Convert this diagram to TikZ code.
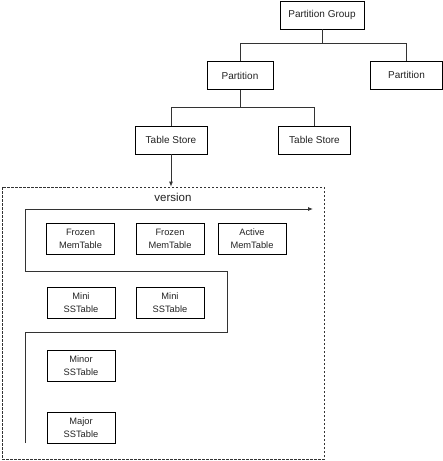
\documentclass[tikz,border=0pt]{standalone}
\usepackage{fontspec}
\setmainfont{Liberation Sans}
\usetikzlibrary{arrows.meta}
\definecolor{LineGray}{HTML}{333333}
\definecolor{TextGray}{HTML}{222222}

\begin{document}
\begin{tikzpicture}[
    x=1pt, y=-1pt,
    every node/.style={font=\fontsize{10}{12}\selectfont, text=TextGray},
    box/.style={draw=black, line width=0.8pt, align=center,
                inner sep=0pt, minimum height=28pt},
    topbox/.style={box, minimum width=72pt},
    memb/.style={box, minimum width=68pt, minimum height=31pt,
                 font=\fontsize{9.3}{13}\selectfont},
    link/.style={draw=LineGray, line width=0.8pt},
    arr/.style={link, -{Latex[length=5pt,width=4pt]}},
    verbox/.style={draw=LineGray, dash pattern=on 2.5pt off 1.5pt,
                   line width=0.8pt, inner sep=0pt},
]
\useasboundingbox (0,0) rectangle (443,461);

%% Tree
\node[box, minimum width=84pt] (group)  at (322,15)    {Partition Group};
\node[box, minimum width=66pt] (partA)  at (240,75.5)  {Partition};
\node[topbox]                  (partB)  at (406.5,75)  {Partition};
\node[topbox]                  (storeA) at (171,140)   {Table Store};
\node[topbox]                  (storeB) at (314.5,140) {Table Store};

\draw[link] (group.south) -- ++(0,14) -| (partA.north);
\draw[link] (group.south) -- ++(0,14) -| (partB.north);
\draw[link] (partA.south) -- ++(0,17) -| (storeA.north);
\draw[link] (partA.south) -- ++(0,17) -| (storeB.north);

%% Version
\node[verbox, minimum width=322pt, minimum height=272pt] (version) at (163,323) {};
\node[font=\fontsize{11.5}{13}\selectfont] (vlabel) at (173,197) {version};
\draw[arr] (storeA.south) -- (storeA.south |- version.north);

\node[memb] (frozenA) at (80.5,238.5) {Frozen\\MemTable};
\node[memb] (frozenB) at (170,238.5)  {Frozen\\MemTable};
\node[memb] (active)  at (252,238.5)  {Active\\MemTable};
\node[memb] (miniA)   at (81,302.5)   {Mini\\SSTable};
\node[memb] (miniB)   at (170,302.5)  {Mini\\SSTable};
\node[memb] (minor)   at (81,365.5)   {Minor\\SSTable};
\node[memb] (major)   at (81,428)     {Major\\SSTable};

%% Flow through the levels
\coordinate (start)  at (25,443);
\coordinate (finish) at (313,209);
\draw[arr] (start) -- (25,332) -- (227,332) -- (227,271)
           -- (25,271) -- (25,209) -- (finish);

\end{tikzpicture}
\end{document}
